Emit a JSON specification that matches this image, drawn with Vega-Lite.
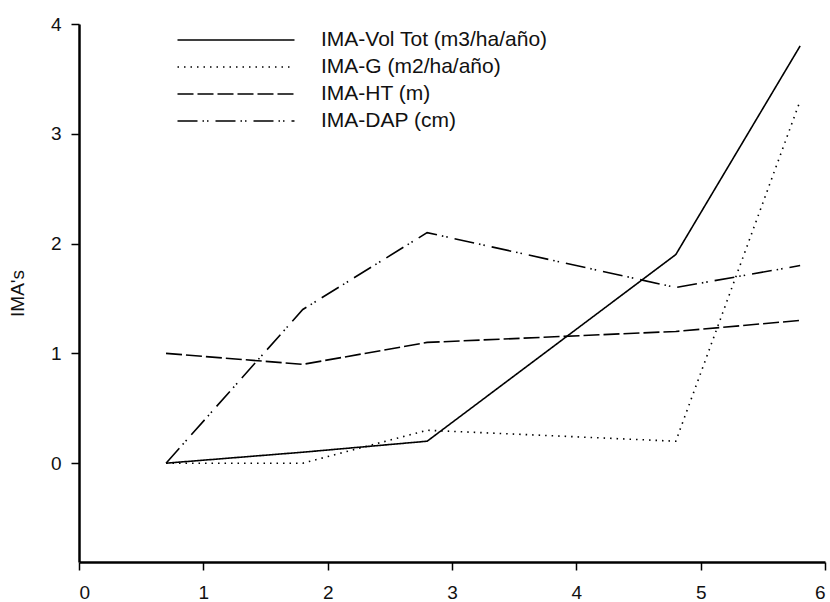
{
  "$schema": "https://vega.github.io/schema/vega-lite/v6.json",
  "autosize": "none",
  "width": 746,
  "height": 538,
  "padding": {"left": 79, "top": 24, "right": 5, "bottom": 40},
  "background": "white",
  "config": {
    "view": {"stroke": null},
    "font": "Liberation Sans",
    "axis": {
      "grid": false,
      "domainColor": "black",
      "domainWidth": 2.5,
      "tickColor": "black",
      "tickWidth": 1.5,
      "tickSize": 8,
      "labelFont": "Liberation Sans",
      "labelFontSize": 19,
      "labelColor": "#111111",
      "titleFont": "Liberation Sans",
      "titleFontSize": 19,
      "titleFontWeight": "normal",
      "titleColor": "#111111"
    }
  },
  "data": {
    "values": [
      {"x": 0.7, "value": 0, "serie": "IMA-Vol Tot (m3/ha/año)"},
      {"x": 1.8, "value": 0.1, "serie": "IMA-Vol Tot (m3/ha/año)"},
      {"x": 2.8, "value": 0.2, "serie": "IMA-Vol Tot (m3/ha/año)"},
      {"x": 4.8, "value": 1.9, "serie": "IMA-Vol Tot (m3/ha/año)"},
      {"x": 5.8, "value": 3.8, "serie": "IMA-Vol Tot (m3/ha/año)"},
      {"x": 0.7, "value": 0, "serie": "IMA-G (m2/ha/año)"},
      {"x": 1.8, "value": 0, "serie": "IMA-G (m2/ha/año)"},
      {"x": 2.8, "value": 0.3, "serie": "IMA-G (m2/ha/año)"},
      {"x": 4.8, "value": 0.2, "serie": "IMA-G (m2/ha/año)"},
      {"x": 5.8, "value": 3.3, "serie": "IMA-G (m2/ha/año)"},
      {"x": 0.7, "value": 1.0, "serie": "IMA-HT (m)"},
      {"x": 1.8, "value": 0.9, "serie": "IMA-HT (m)"},
      {"x": 2.8, "value": 1.1, "serie": "IMA-HT (m)"},
      {"x": 4.8, "value": 1.2, "serie": "IMA-HT (m)"},
      {"x": 5.8, "value": 1.3, "serie": "IMA-HT (m)"},
      {"x": 0.7, "value": 0, "serie": "IMA-DAP (cm)"},
      {"x": 1.8, "value": 1.4, "serie": "IMA-DAP (cm)"},
      {"x": 2.8, "value": 2.1, "serie": "IMA-DAP (cm)"},
      {"x": 4.8, "value": 1.6, "serie": "IMA-DAP (cm)"},
      {"x": 5.8, "value": 1.8, "serie": "IMA-DAP (cm)"}
    ]
  },
  "mark": {"type": "line", "color": "black", "strokeWidth": 1.6},
  "encoding": {
    "x": {
      "field": "x",
      "type": "quantitative",
      "scale": {"domain": [0, 6], "nice": false, "zero": false},
      "axis": {"title": null, "values": [0, 1, 2, 3, 4, 5, 6], "labelPadding": 13}
    },
    "y": {
      "field": "value",
      "type": "quantitative",
      "scale": {"domain": [-0.9, 4], "nice": false, "zero": false},
      "axis": {"title": "IMA's", "values": [0, 1, 2, 3, 4], "labelPadding": 10, "titlePadding": 23}
    },
    "strokeDash": {
      "field": "serie",
      "type": "nominal",
      "scale": {
        "domain": ["IMA-Vol Tot (m3/ha/año)", "IMA-G (m2/ha/año)", "IMA-HT (m)", "IMA-DAP (cm)"],
        "range": [[1, 0], [1.5, 5], [16, 4], [20, 5, 1.5, 3, 1.5, 7]]
      },
      "legend": {
        "title": null,
        "orient": "none",
        "legendX": 146,
        "legendY": 5,
        "padding": 0,
        "symbolType": "M-5.85,0H5.85",
        "symbolSize": 400,
        "symbolStrokeColor": "black",
        "symbolStrokeWidth": 1.6,
        "labelFont": "Liberation Sans",
        "labelFontSize": 21,
        "labelColor": "#111111",
        "labelOffset": 74,
        "labelLimit": 400,
        "rowPadding": 6
      }
    }
  }
}
